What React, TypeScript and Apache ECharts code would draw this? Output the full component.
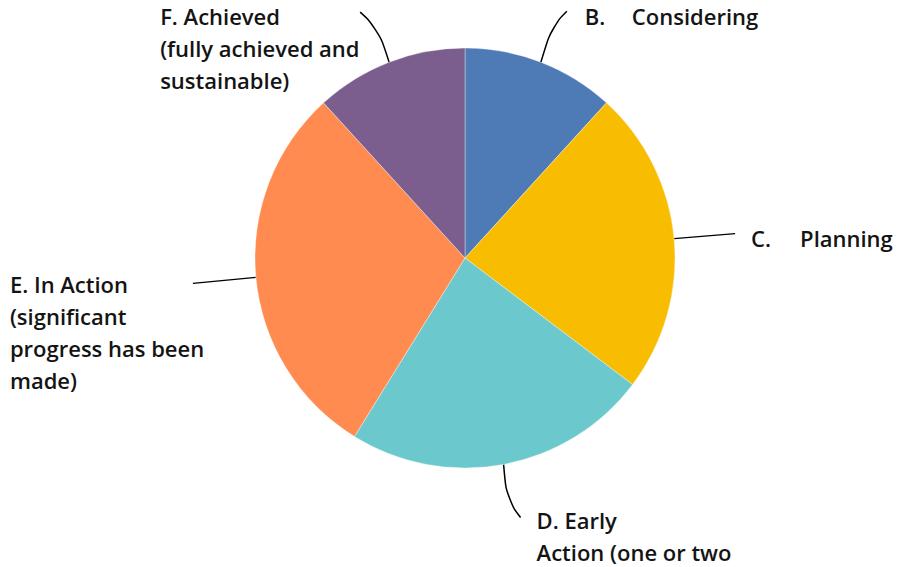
import React, { useEffect, useRef } from 'react';
import * as echarts from 'echarts';

const categories = ['B. Considering', 'C. Planning', 'D. Early Action', 'E. In Action', 'F. Achieved'];
const values = [2, 4, 4, 5, 2];
const labelTexts = [
  '{k|B.}Considering',
  '{k2|C.}Planning',
  'D. Early\nAction (one or two',
  'E. In Action\n(significant\nprogress has been\nmade)',
  'F. Achieved\n(fully achieved and\nsustainable)',
];
const colors = ['#4E7AB5', '#F8BD00', '#6BC8CC', '#FF8B50', '#7B5E8E'];

// layout (pixels)
const CX = 465;
const CY = 258;
const R = 210;
// label top-left offset from the slice's edge point
const labelOffsets: [number, number][] = [
  [44, -62],
  [77, -17],
  [33, 40],
  [-246, -9],
  [-229, -62],
];
// intermediate / end points of leader lines, relative to the edge point
const linePts: [number, number][][] = [
  [[11, -36], [26, -51]],
  [[61, -5]],
  [[3, 35], [17, 53]],
  [[-63, 6]],
  [[-11, -34], [-29, -50]],
];

const FONT = '"Open Sans", sans-serif';

export default function App() {
  const ref = useRef<HTMLDivElement>(null);
  useEffect(() => {
    document.body.style.margin = '0';
    const chart = echarts.init(ref.current!, undefined, { renderer: 'svg' });
    const total = values.reduce((a, b) => a + b, 0);
    const edges: [number, number][] = [];
    let cum = 0;
    values.forEach((v) => {
      const mid = ((cum + v / 2) / total) * Math.PI * 2;
      cum += v;
      edges.push([CX + R * Math.sin(mid), CY - R * Math.cos(mid)]);
    });
    const baseFont = { fontFamily: FONT, fontSize: 22, fontWeight: 600, color: '#141414', lineHeight: 32 };
    chart.setOption({
      animation: false,
      series: [
        {
          type: 'pie',
          center: [CX, CY],
          radius: R,
          startAngle: 90,
          clockwise: true,
          itemStyle: { borderColor: 'rgba(255,255,255,0.6)', borderWidth: 0.6 },
          label: {
            show: true,
            position: 'outside',
            ...baseFont,
            align: 'left',
            rich: {
              k: { ...baseFont, width: 47 },
              k2: { ...baseFont, width: 49 },
            },
          },
          labelLine: {
            show: true,
            smooth: 0.5,
            lineStyle: { color: '#000', width: 1.5 },
          },
          labelLayout: (params: any) => {
            const i = params.dataIndex;
            const e = edges[i];
            const off = labelOffsets[i];
            const pts = [e, ...linePts[i].map((p) => [e[0] + p[0], e[1] + p[1]])];
            return {
              x: e[0] + off[0],
              y: e[1] + off[1],
              align: 'left',
              verticalAlign: 'top',
              labelLinePoints: pts,
            };
          },
          data: categories.map((c, i) => ({
            name: c,
            value: values[i],
            itemStyle: { color: colors[i] },
            label: { formatter: labelTexts[i] },
          })),
        },
      ],
    });
    return () => chart.dispose();
  }, []);
  return <div ref={ref} style={{ width: 899, height: 567, position: 'absolute', left: 0, top: 0, background: '#fff' }} />;
}
